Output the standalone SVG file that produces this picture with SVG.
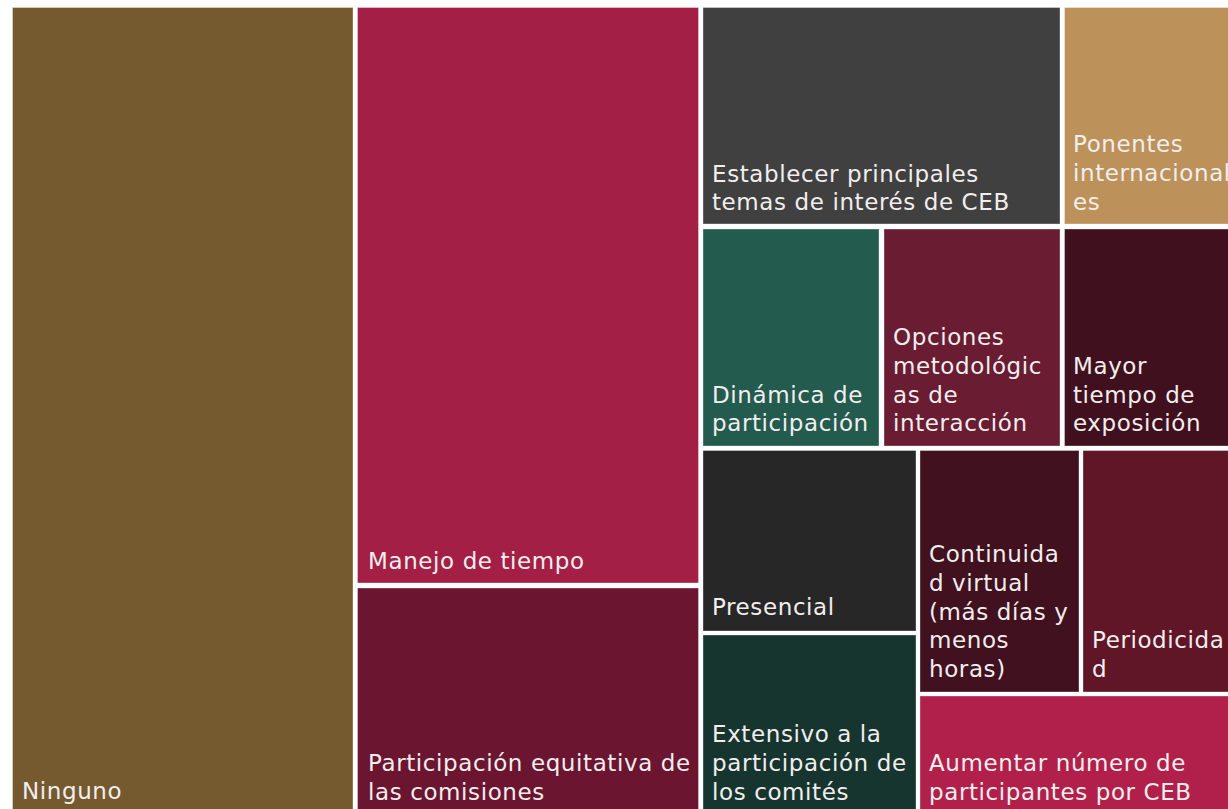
<svg xmlns="http://www.w3.org/2000/svg" width="1228" height="809" viewBox="0 0 1228 809">
<style>
.box{stroke:#ffffff;stroke-opacity:0.35;stroke-width:1}
.lbl{font-family:"DejaVu Sans","Liberation Sans",sans-serif;font-size:23px;letter-spacing:0.6px;fill:#f2eeee}
</style>
<rect x="0" y="0" width="1228" height="809" fill="#ffffff"/>
<g id="ninguno"><rect class="box" x="12.5" y="7.5" width="340.5" height="810" fill="#765a2f"/><text class="lbl" x="22" y="799">Ninguno</text></g>
<g id="manejo"><rect class="box" x="357.5" y="7.5" width="341" height="575.5" fill="#a41f45"/><text class="lbl" x="368" y="569">Manejo de tiempo</text></g>
<g id="participacion"><rect class="box" x="357.5" y="588" width="341" height="230" fill="#6b1530"/><text class="lbl" x="368" y="771">Participación equitativa de</text><text class="lbl" x="368" y="800">las comisiones</text></g>
<g id="establecer"><rect class="box" x="703" y="7.5" width="357" height="216.5" fill="#404040"/><text class="lbl" x="712" y="182">Establecer principales</text><text class="lbl" x="712" y="210">temas de interés de CEB</text></g>
<g id="ponentes"><rect class="box" x="1064.5" y="7.5" width="170" height="216.5" fill="#bc925a"/><text class="lbl" x="1073" y="152">Ponentes</text><text class="lbl" x="1073" y="181">internacional</text><text class="lbl" x="1073" y="210">es</text></g>
<g id="dinamica"><rect class="box" x="703" y="229" width="176" height="217" fill="#235b4e"/><text class="lbl" x="712" y="403">Dinámica de</text><text class="lbl" x="712" y="431">participación</text></g>
<g id="opciones"><rect class="box" x="884" y="229" width="176" height="217" fill="#691c32"/><text class="lbl" x="893" y="345">Opciones</text><text class="lbl" x="893" y="374">metodológic</text><text class="lbl" x="893" y="403">as de</text><text class="lbl" x="893" y="431">interacción</text></g>
<g id="mayor"><rect class="box" x="1064.5" y="229" width="170" height="217" fill="#41101e"/><text class="lbl" x="1073" y="374">Mayor</text><text class="lbl" x="1073" y="403">tiempo de</text><text class="lbl" x="1073" y="431">exposición</text></g>
<g id="presencial"><rect class="box" x="703" y="450.5" width="213" height="180.5" fill="#272727"/><text class="lbl" x="712" y="615">Presencial</text></g>
<g id="extensivo"><rect class="box" x="703" y="635" width="213" height="183" fill="#17352f"/><text class="lbl" x="712" y="742">Extensivo a la</text><text class="lbl" x="712" y="771">participación de</text><text class="lbl" x="712" y="800">los comités</text></g>
<g id="continuidad"><rect class="box" x="920" y="450.5" width="159" height="241.5" fill="#41111f"/><text class="lbl" x="929" y="562">Continuida</text><text class="lbl" x="929" y="591">d virtual</text><text class="lbl" x="929" y="620">(más días y</text><text class="lbl" x="929" y="648">menos</text><text class="lbl" x="929" y="677">horas)</text></g>
<g id="periodicidad"><rect class="box" x="1083" y="450.5" width="150" height="241.5" fill="#611628"/><text class="lbl" x="1092" y="648">Periodicida</text><text class="lbl" x="1092" y="677">d</text></g>
<g id="aumentar"><rect class="box" x="920" y="696" width="313" height="122" fill="#b1204a"/><text class="lbl" x="929" y="771">Aumentar número de</text><text class="lbl" x="929" y="800">participantes por CEB</text></g>
<g id="connectors"></g>
</svg>
